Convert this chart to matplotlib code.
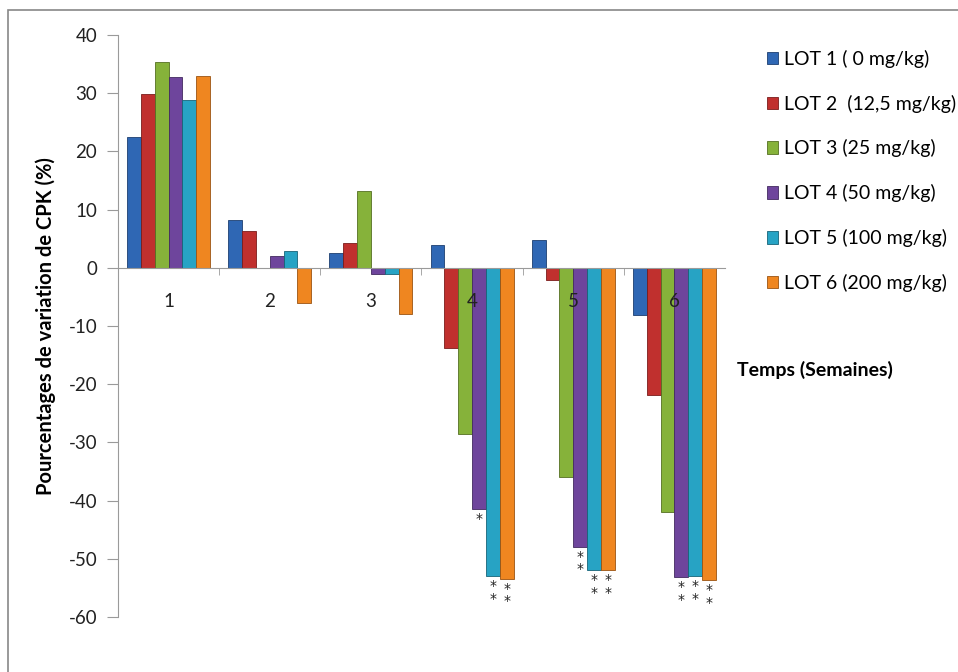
import numpy as np
import matplotlib.pyplot as plt
from matplotlib.patches import Rectangle

plt.rcParams['font.family'] = ['Lato', 'DejaVu Sans']
plt.rcParams['axes.unicode_minus'] = False

semaines = ['1', '2', '3', '4', '5', '6']
lots = ['LOT 1 ( 0 mg/kg)', 'LOT 2  (12,5 mg/kg)', 'LOT 3 (25 mg/kg)',
        'LOT 4 (50 mg/kg)', 'LOT 5 (100 mg/kg)', 'LOT 6 (200 mg/kg)']
lot1 = [22.5, 8.2, 2.5, 4.0, 4.8, -8.1]
lot2 = [29.9, 6.4, 4.2, -13.8, -2.1, -21.8]
lot3 = [35.3, 0.0, 13.2, -28.5, -36.0, -42.0]
lot4 = [32.7, 2.0, -1.0, -41.5, -48.0, -53.2]
lot5 = [28.9, 2.9, -1.0, -53.0, -52.0, -53.0]
lot6 = [33.0, -6.0, -8.0, -53.5, -52.0, -53.7]
# significance marks (lot index, week index, text)
stars = [(3, 3, '*'), (4, 3, '*\n*'), (5, 3, '*\n*'),
         (3, 4, '*\n*'), (4, 4, '*\n*'), (5, 4, '*\n*'),
         (3, 5, '*\n*'), (4, 5, '*\n*'), (5, 5, '*\n*')]

colors = ['#2f67b4', '#c0302e', '#86b23a', '#6e459c', '#27a3c4', '#ef8620']
edges = ['#1d3f70', '#7a1c1b', '#556f22', '#432a60', '#176478', '#9a5412']

fig = plt.figure(figsize=(9.58, 6.72), dpi=100)
ax = fig.add_axes([118/958, 1-617/672, (725-118)/958, (617-35)/672])

data = [lot1, lot2, lot3, lot4, lot5, lot6]
x = np.arange(len(semaines))
w = 0.137
for i, vals in enumerate(data):
    ax.bar(x - 2.5*w + i*w, vals, w, color=colors[i], edgecolor=edges[i],
           linewidth=0.6, label=lots[i], zorder=2)

for li, wi, s in stars:
    xv = x[wi] - 2.5*w + li*w
    ax.text(xv, data[li][wi] - 0.5, s, ha='center', va='top', fontsize=10,
            family='DejaVu Sans', linespacing=0.85, color='#222222')

ax.set_axisbelow(False)
ax.set_xlim(-0.5, 5.5)
ax.set_ylim(-60, 40)
ax.set_yticks(range(-60, 41, 10))
ax.spines['top'].set_visible(False)
ax.spines['right'].set_visible(False)
ax.spines['bottom'].set_position(('data', 0))
ax.spines['bottom'].set_color('#9a9a9a')
ax.spines['left'].set_color('#9a9a9a')
ax.tick_params(axis='y', colors='#9a9a9a', labelcolor='#222222', labelsize=13.5,
               length=8, pad=7)
ax.set_xticks(x)
ax.set_xticklabels(semaines)
ax.set_xticks(np.arange(0.5, 5.5, 1), minor=True)
ax.tick_params(axis='x', which='major', length=0, pad=18, labelsize=13.5, labelcolor='#222222')
ax.tick_params(axis='x', which='minor', length=5, colors='#9a9a9a')
ax.set_ylabel('Pourcentages de variation de CPK (%)', fontsize=14.5, fontweight='bold', labelpad=9)

ax.text(5.62, -17.5, 'Temps (Semaines)', fontsize=14, fontweight='bold', va='center', ha='left')

leg = ax.legend(loc='upper left', bbox_to_anchor=(1.04, 1.005), frameon=False,
                fontsize=14, handlelength=0.6, handleheight=0.6, labelspacing=1.38,
                handletextpad=0.3)

fig.patches.append(Rectangle((8/958, -0.1), 1.2, 1 - 10/672 + 0.1, transform=fig.transFigure,
                             fill=False, edgecolor='#888888', linewidth=1.2))

fig.savefig('out.png', dpi=100)
